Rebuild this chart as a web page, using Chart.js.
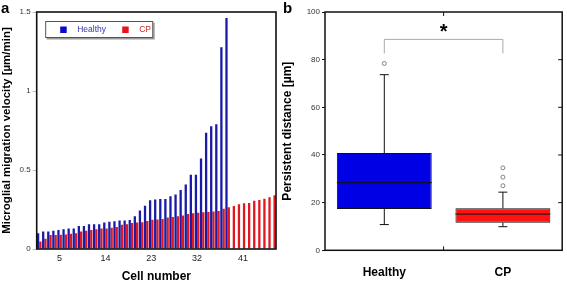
<!DOCTYPE html>
<html>
<head>
<meta charset="utf-8">
<script src="https://cdn.jsdelivr.net/npm/chart.js@4.4.0/dist/chart.umd.min.js"></script>
<style>
  body { margin: 0; background: #fff; }
  #chartA { position: absolute; left: 0; top: 0; }
  #chartB { position: absolute; left: 280px; top: 0; }
</style>
</head>
<body>
<canvas id="chartA" width="280" height="282"></canvas>
<canvas id="chartB" width="287" height="282"></canvas>
<script>
// ---- panel a: velocity per cell, sorted ----
const cellNumbers = [1,2,3,4,5,6,7,8,9,10,11,12,13,14,15,16,17,18,19,20,21,22,23,24,25,26,27,28,29,30,
                     31,32,33,34,35,36,37,38,39,40,41,42,43,44,45,46,47];
const tickCells = [5, 14, 23, 32, 41];
const healthyVelocity = [0.10,0.11,0.11,0.115,0.12,0.125,0.13,0.13,0.145,0.145,0.157,0.157,0.157,0.168,0.172,
                         0.176,0.18,0.18,0.183,0.208,0.243,0.273,0.309,0.313,0.317,0.317,0.334,0.345,0.373,0.408,
                         0.47,0.47,0.573,0.735,0.777,0.79,1.277,1.462];
const cpVelocity = [0.048,0.065,0.088,0.088,0.09,0.092,0.096,0.10,0.11,0.115,0.12,0.125,0.13,0.13,0.135,
                    0.14,0.153,0.157,0.164,0.168,0.17,0.178,0.185,0.187,0.19,0.2,0.203,0.208,0.212,0.222,
                    0.226,0.23,0.232,0.234,0.238,0.241,0.255,0.264,0.272,0.284,0.29,0.291,0.306,0.31,0.318,
                    0.328,0.34];

// ---- panel b: persistent distance box plot ----
const groups = ['Healthy', 'CP'];
const boxQ1 = [17.3, 11.6];
const boxQ3 = [40.8, 17.6];
const medians = [28.4, 15.2];
const whiskerLow = [10.8, 9.9];
const whiskerHigh = [73.7, 24.4];
const outliers = [
  {x: 'Healthy', y: 78.4},
  {x: 'CP', y: 27.1}, {x: 'CP', y: 30.7}, {x: 'CP', y: 34.6}
];
const bracketTop = 88.5, bracketFoot = 82.6, starLevel = 93;

Chart.defaults.font.family = "'Liberation Sans', Arial, sans-serif";
Chart.defaults.animation = false;

// frame, legend box and panel letter for a
const extrasA = {
  id: 'extrasA',
  afterDraw(chart) {
    const ctx = chart.ctx, a = chart.chartArea;
    ctx.save();
    ctx.strokeStyle = '#111';
    ctx.lineWidth = 1.6;
    ctx.strokeRect(a.left, a.top, a.right - a.left, a.bottom - a.top);

    // legend
    const lx = a.left + 8.5, ly = a.top + 9, lw = 108, lh = 17;
    ctx.fillStyle = '#999';
    ctx.fillRect(lx + 1.5, ly + 1.5, lw, lh);
    ctx.fillStyle = '#fff';
    ctx.fillRect(lx, ly, lw, lh);
    ctx.strokeStyle = '#555';
    ctx.lineWidth = 1;
    ctx.strokeRect(lx + 0.5, ly + 0.5, lw - 1, lh - 1);
    const ds = chart.data.datasets;
    const items = [
      {x: lx + 15, label: ds[0].label, box: '#0b0bd0', text: '#3434b4'},
      {x: lx + 77, label: ds[1].label, box: '#e8141c', text: '#d02a2a'}
    ];
    ctx.font = "8.5px 'Liberation Sans', Arial, sans-serif";
    ctx.textBaseline = 'middle';
    items.forEach(it => {
      ctx.fillStyle = it.box;
      ctx.fillRect(it.x, ly + 5.5, 6.5, 6.5);
      ctx.fillStyle = it.text;
      ctx.fillText(it.label, it.x + 17, ly + 9);
    });

    ctx.fillStyle = '#000';
    ctx.font = "bold 15px 'Liberation Sans', Arial, sans-serif";
    ctx.textBaseline = 'alphabetic';
    ctx.fillText('a', 1, 13);
    ctx.restore();
  }
};

new Chart(document.getElementById('chartA'), {
  type: 'bar',
  data: {
    labels: cellNumbers,
    datasets: [
      {label: 'Healthy', data: healthyVelocity, backgroundColor: '#1a1aa8',
       categoryPercentage: 0.9, barPercentage: 1},
      {label: 'CP', data: cpVelocity, backgroundColor: '#e2161e',
       categoryPercentage: 0.9, barPercentage: 1}
    ]
  },
  options: {
    responsive: false,
    layout: {padding: {top: 12, right: 4, left: 0, bottom: 0}},
    plugins: {legend: {display: false}, tooltip: {enabled: false}},
    scales: {
      x: {
        grid: {display: false, drawTicks: false},
        border: {display: false},
        ticks: {
          autoSkip: false, maxRotation: 0, padding: 4,
          color: '#222', font: {size: 9},
          callback: function(v) {
            const l = this.getLabelForValue(v);
            return tickCells.includes(l) ? String(l) : '';
          }
        },
        title: {display: true, text: 'Cell number', color: '#000',
                font: {size: 12, weight: 'bold', lineHeight: 1}, padding: {top: 0, bottom: -1}},
        afterFit(s) { s.height = 33; }
      },
      y: {
        min: 0, max: 1.5,
        ticks: {stepSize: 0.5, color: '#333', font: {size: 8}, padding: 2,
                callback: v => String(v)},
        grid: {drawOnChartArea: false, tickLength: 4, color: '#bbb'},
        border: {display: false},
        title: {display: true, text: 'Microglial migration velocity [µm/min]', color: '#000',
                font: {size: 11.5, weight: 'bold'}, padding: {top: 0, bottom: 0}},
        afterFit(s) { s.width = 36.7; }
      }
    }
  },
  plugins: [extrasA]
});

// whiskers, medians, frame, significance bracket for b
const extrasB = {
  id: 'extrasB',
  afterDatasetsDraw(chart) {
    const ctx = chart.ctx, xs = chart.scales.x, ys = chart.scales.y;
    const boxes = chart.getDatasetMeta(0).data;
    ctx.save();
    ctx.strokeStyle = '#111';
    ctx.lineWidth = 1;
    groups.forEach((g, i) => {
      const x = xs.getPixelForValue(i);
      const half = boxes[i].width / 2;
      const cap = 4.5;
      ctx.beginPath();
      ctx.moveTo(x, ys.getPixelForValue(boxQ3[i]));
      ctx.lineTo(x, ys.getPixelForValue(whiskerHigh[i]));
      ctx.moveTo(x - cap, ys.getPixelForValue(whiskerHigh[i]));
      ctx.lineTo(x + cap, ys.getPixelForValue(whiskerHigh[i]));
      ctx.moveTo(x, ys.getPixelForValue(boxQ1[i]));
      ctx.lineTo(x, ys.getPixelForValue(whiskerLow[i]));
      ctx.moveTo(x - cap, ys.getPixelForValue(whiskerLow[i]));
      ctx.lineTo(x + cap, ys.getPixelForValue(whiskerLow[i]));
      ctx.moveTo(x - half, ys.getPixelForValue(medians[i]));
      ctx.lineTo(x + half, ys.getPixelForValue(medians[i]));
      ctx.stroke();
    });

    // significance bracket
    const x0 = xs.getPixelForValue(0), x1 = xs.getPixelForValue(1);
    const yt = ys.getPixelForValue(bracketTop), yf = ys.getPixelForValue(bracketFoot);
    ctx.strokeStyle = '#aaa';
    ctx.beginPath();
    ctx.moveTo(x0, yf); ctx.lineTo(x0, yt); ctx.lineTo(x1, yt); ctx.lineTo(x1, yf);
    ctx.stroke();
    ctx.fillStyle = '#000';
    ctx.font = "bold 20px 'Liberation Sans', Arial, sans-serif";
    ctx.textAlign = 'center';
    ctx.textBaseline = 'middle';
    ctx.fillText('*', (x0 + x1) / 2, ys.getPixelForValue(starLevel) + 4);
    ctx.restore();
  },
  afterDraw(chart) {
    const ctx = chart.ctx, a = chart.chartArea, xs = chart.scales.x, ys = chart.scales.y;
    ctx.save();
    ctx.strokeStyle = '#111';
    ctx.lineWidth = 1.5;
    ctx.strokeRect(a.left, a.top, a.right - a.left, a.bottom - a.top);
    ctx.lineWidth = 1;
    ctx.beginPath();
    [20, 40, 60, 80].forEach(v => {
      const y = ys.getPixelForValue(v);
      ctx.moveTo(a.right, y); ctx.lineTo(a.right - 4, y);
    });
    const mid = (xs.getPixelForValue(0) + xs.getPixelForValue(1)) / 2;
    ctx.moveTo(mid, a.top); ctx.lineTo(mid, a.top + 4);
    ctx.moveTo(mid, a.bottom); ctx.lineTo(mid, a.bottom - 4);
    ctx.stroke();

    ctx.fillStyle = '#000';
    ctx.font = "bold 15px 'Liberation Sans', Arial, sans-serif";
    ctx.fillText('b', 3, 13);
    ctx.restore();
  }
};

new Chart(document.getElementById('chartB'), {
  type: 'bar',
  data: {
    labels: groups,
    datasets: [
      {label: 'box', data: groups.map((g, i) => [boxQ1[i], boxQ3[i]]),
       backgroundColor: ['#0000e4', '#ff1212'], borderColor: '#111', borderWidth: 1,
       borderSkipped: false, categoryPercentage: 0.8, barPercentage: 1},
      {type: 'line', label: 'outliers', data: outliers, showLine: false,
       pointRadius: 2, pointBackgroundColor: '#fff', pointBorderColor: '#666', pointBorderWidth: 0.8}
    ]
  },
  options: {
    responsive: false,
    layout: {padding: {top: 12, right: 2, left: 0, bottom: 0}},
    plugins: {legend: {display: false}, tooltip: {enabled: false}},
    scales: {
      x: {
        grid: {display: false, drawTicks: false},
        border: {display: false},
        ticks: {color: '#000', font: {size: 12, weight: 'bold'}, padding: 15},
        afterFit(s) { s.height = 31.7; }
      },
      y: {
        min: 0, max: 100,
        ticks: {stepSize: 20, color: '#333', font: {size: 8}, padding: 2},
        grid: {drawOnChartArea: false, tickLength: 3, color: '#111'},
        border: {display: false},
        title: {display: true, text: 'Persistent distance [µm]', color: '#000',
                font: {size: 12, weight: 'bold'}, padding: {top: 0, bottom: 0}},
        afterFit(s) { s.width = 45; }
      }
    }
  },
  plugins: [extrasB]
});
</script>
</body>
</html>
